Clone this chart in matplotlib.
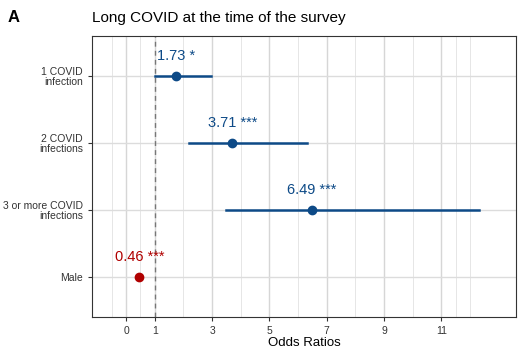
import numpy as np
import matplotlib.pyplot as plt

plt.rcParams['font.family'] = ['Liberation Sans', 'DejaVu Sans']

# forest plot data
labels = ["1 COVID\ninfection", "2 COVID\ninfections", "3 or more COVID\ninfections", "Male"]
odds = [1.73, 3.71, 6.49, 0.46]
lower = [1.00, 2.20, 3.50, 0.42]
upper = [2.95, 6.30, 12.30, 0.50]
stars = ["*", "***", "***", "***"]
colors = ["#0d4a87", "#0d4a87", "#0d4a87", "#b00000"]

xticks = [0, 1, 3, 5, 7, 9, 11]
minor = [-0.5, 0.5, 2, 4, 6, 8, 10, 11.5, 12]

fig = plt.figure(figsize=(5.18, 3.57), dpi=100)
ax = fig.add_axes([92 / 518, 1 - 317 / 357, 424 / 518, 281 / 357])

y = np.arange(len(labels), 0, -1)
for xv in xticks:
    ax.axvline(xv, color="#d6d6d6", lw=1.0, zorder=0)
for xv in minor:
    ax.axvline(xv, color="#e6e6e6", lw=0.7, zorder=0)
for yv in y:
    ax.axhline(yv, color="#dcdcdc", lw=1.0, zorder=0)

ax.axvline(1, color="#777777", lw=1, ls=(0, (3.5, 3)), zorder=1)

for i in range(len(labels)):
    ax.plot([lower[i], upper[i]], [y[i], y[i]], color=colors[i], lw=1.8, zorder=2)
    ax.plot(odds[i], y[i], "o", color=colors[i], ms=6, zorder=3)
    ax.text(odds[i], y[i] + 0.19, f"{odds[i]:.2f} {stars[i]}", color=colors[i],
            ha="center", va="bottom", fontsize=10.5)

ax.set_xlim(-1.19, 13.6)
ax.set_ylim(0.4, 4.6)
ax.set_xticks(xticks)
ax.set_yticks(y)
ax.set_yticklabels(labels, fontsize=7.5, color="#333333", linespacing=1.0)
ax.tick_params(axis="x", labelsize=7.5, labelcolor="#333333", length=3, color="#333333")
ax.tick_params(axis="y", length=3, color="#333333")
ax.set_xlabel("Odds Ratios", fontsize=9.5, labelpad=1)
for s in ax.spines.values():
    s.set_color("#333333")
    s.set_linewidth(0.8)

fig.text(92 / 518, 1 - 18 / 357, "Long COVID at the time of the survey", fontsize=11,
         va="center", ha="left")
fig.text(8 / 518, 1 - 18 / 357, "A", fontsize=12, fontweight="bold", va="center", ha="left")

fig.savefig("out.png", dpi=100)
